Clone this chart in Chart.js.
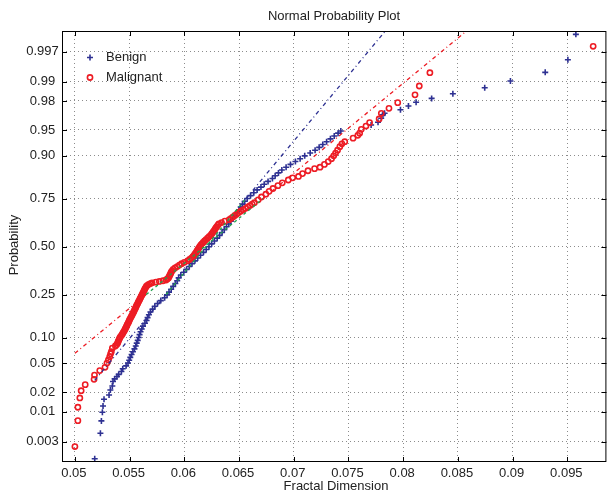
<!DOCTYPE html>
<html>
<head>
<meta charset="utf-8">
<title>Normal Probability Plot</title>
<script src="https://cdn.jsdelivr.net/npm/chart.js@4.4.1/dist/chart.umd.min.js"></script>
<style>
  html, body { margin: 0; padding: 0; background: #fff; overflow: hidden; }
  #wrap { width: 609px; height: 490px; overflow: hidden; }
</style>
</head>
<body>
<div id="wrap"><canvas id="chart" width="612" height="490"></canvas></div>
<script>
// Tick labels
const probTicks = [0.003, 0.01, 0.02, 0.05, 0.10, 0.25, 0.50, 0.75, 0.90, 0.95, 0.98, 0.99, 0.997];
const probLabels = ['0.003', '0.01', '0.02', '0.05', '0.10', '0.25', '0.50', '0.75', '0.90', '0.95', '0.98', '0.99', '0.997'];
const xTicks = [0.05, 0.055, 0.06, 0.065, 0.07, 0.075, 0.08, 0.085, 0.09, 0.095];
const xLabels = ['0.05', '0.055', '0.06', '0.065', '0.07', '0.075', '0.08', '0.085', '0.09', '0.095'];

// Points: [fractal dimension, normal quantile of the probability]
const benign = [
  [0.05181, -2.99], [0.05233, -2.63], [0.05242, -2.456], [0.05251, -2.334], [0.05257, -2.245],
  [0.05266, -2.15], [0.05312, -2.09], [0.05324, -2.02], [0.05342, -1.963], [0.05348, -1.90],
  [0.05363, -1.864], [0.05384, -1.83], [0.05400, -1.80], [0.05425, -1.76], [0.05437, -1.72],
  [0.05468, -1.68], [0.05485, -1.64], [0.05496, -1.60], [0.05506, -1.56], [0.05518, -1.52],
  [0.05530, -1.48], [0.05544, -1.44], [0.05556, -1.40], [0.05565, -1.36], [0.05574, -1.32],
  [0.05583, -1.28], [0.05591, -1.24], [0.05600, -1.20], [0.05611, -1.16], [0.05622, -1.12],
  [0.05640, -1.08], [0.05655, -1.04], [0.05664, -1.00], [0.05676, -0.96], [0.05690, -0.92],
  [0.05710, -0.88], [0.05730, -0.84], [0.05755, -0.80], [0.05785, -0.76], [0.05820, -0.72],
  [0.05842, -0.68], [0.05860, -0.64], [0.05880, -0.60], [0.05898, -0.56], [0.05918, -0.52],
  [0.05935, -0.48], [0.05948, -0.44], [0.05968, -0.40], [0.05995, -0.36], [0.06020, -0.32],
  [0.06045, -0.28], [0.06070, -0.24], [0.06097, -0.20], [0.06122, -0.16], [0.06148, -0.12],
  [0.06175, -0.08], [0.06200, -0.04], [0.06225, 0.00], [0.06250, 0.04], [0.06275, 0.08],
  [0.06300, 0.12], [0.06322, 0.16], [0.06345, 0.20], [0.06365, 0.24], [0.06385, 0.28],
  [0.06405, 0.32], [0.06425, 0.36], [0.06445, 0.40], [0.06462, 0.44], [0.06480, 0.48],
  [0.06500, 0.52], [0.06515, 0.56], [0.06532, 0.60], [0.06552, 0.64], [0.06575, 0.68],
  [0.06605, 0.72], [0.06635, 0.76], [0.06665, 0.80], [0.06700, 0.84], [0.06730, 0.88],
  [0.06765, 0.92], [0.06805, 0.96], [0.06830, 1.00], [0.06860, 1.04], [0.06891, 1.08],
  [0.06930, 1.12], [0.06970, 1.16], [0.07015, 1.20], [0.07058, 1.24], [0.07100, 1.28],
  [0.07150, 1.32], [0.07195, 1.36], [0.07232, 1.40], [0.07265, 1.44], [0.07300, 1.48],
  [0.07335, 1.52], [0.07370, 1.56], [0.07405, 1.60], [0.07430, 1.63], [0.07707, 1.715],
  [0.07770, 1.753], [0.07799, 1.81], [0.07815, 1.86], [0.07830, 1.88], [0.07975, 1.93],
  [0.08048, 1.983], [0.08118, 2.035], [0.08260, 2.09], [0.08454, 2.156], [0.08745, 2.24],
  [0.08980, 2.335], [0.09298, 2.457], [0.09505, 2.635], [0.09578, 2.993]
];

const malignant = [
  [0.05000, -2.817], [0.05027, -2.452], [0.05027, -2.263], [0.05045, -2.132], [0.05057, -2.03],
  [0.05094, -1.945], [0.05175, -1.87], [0.05179, -1.81], [0.05227, -1.747], [0.05275, -1.70],
  [0.05293, -1.64], [0.05306, -1.597], [0.05318, -1.55], [0.05326, -1.51], [0.05333, -1.48],
  [0.05342, -1.43], [0.05370, -1.40], [0.05382, -1.38], [0.05390, -1.36], [0.05395, -1.34],
  [0.05400, -1.32], [0.05406, -1.30], [0.05412, -1.28], [0.05421, -1.26], [0.05430, -1.24],
  [0.05438, -1.22], [0.05445, -1.20], [0.05453, -1.18], [0.05460, -1.16], [0.05466, -1.14],
  [0.05472, -1.12], [0.05478, -1.10], [0.05485, -1.08], [0.05491, -1.06], [0.05497, -1.04],
  [0.05503, -1.02], [0.05510, -1.00], [0.05517, -0.98], [0.05524, -0.96], [0.05530, -0.94],
  [0.05537, -0.92], [0.05543, -0.90], [0.05549, -0.88], [0.05555, -0.86], [0.05561, -0.84],
  [0.05567, -0.82], [0.05574, -0.80], [0.05580, -0.78], [0.05587, -0.76], [0.05593, -0.74],
  [0.05600, -0.72], [0.05606, -0.70], [0.05613, -0.68], [0.05619, -0.66], [0.05626, -0.64],
  [0.05632, -0.62], [0.05638, -0.60], [0.05645, -0.58], [0.05652, -0.56], [0.05662, -0.545],
  [0.05675, -0.53], [0.05690, -0.52], [0.05705, -0.51], [0.05740, -0.50], [0.05772, -0.49],
  [0.05805, -0.48], [0.05833, -0.47], [0.05845, -0.455], [0.05855, -0.44], [0.05862, -0.42],
  [0.05868, -0.40], [0.05874, -0.38], [0.05880, -0.36], [0.05888, -0.34], [0.05898, -0.32],
  [0.05915, -0.30], [0.05935, -0.28], [0.05955, -0.26], [0.05975, -0.24], [0.06000, -0.22],
  [0.06030, -0.20], [0.06048, -0.18], [0.06065, -0.16], [0.06078, -0.14], [0.06090, -0.12],
  [0.06099, -0.10], [0.06108, -0.08], [0.06116, -0.06], [0.06124, -0.04], [0.06132, -0.02],
  [0.06140, 0.00], [0.06150, 0.02], [0.06160, 0.04], [0.06172, 0.06], [0.06185, 0.08],
  [0.06198, 0.10], [0.06212, 0.12], [0.06226, 0.14], [0.06240, 0.16], [0.06250, 0.18],
  [0.06260, 0.20], [0.06269, 0.22], [0.06278, 0.24], [0.06286, 0.26], [0.06295, 0.28],
  [0.06305, 0.30], [0.06315, 0.32], [0.06340, 0.34], [0.06370, 0.36], [0.06410, 0.38],
  [0.06428, 0.40], [0.06445, 0.42], [0.06462, 0.44], [0.06480, 0.46], [0.06497, 0.48],
  [0.06515, 0.50], [0.06537, 0.52], [0.06560, 0.54], [0.06580, 0.56], [0.06600, 0.58],
  [0.06620, 0.60], [0.06640, 0.62], [0.06675, 0.66], [0.06705, 0.70], [0.06745, 0.74],
  [0.06775, 0.78], [0.06810, 0.82], [0.06855, 0.86], [0.06895, 0.90], [0.06950, 0.94],
  [0.06990, 0.97], [0.07043, 0.99], [0.07080, 1.03], [0.07130, 1.07], [0.07190, 1.10],
  [0.07240, 1.12], [0.07280, 1.16], [0.07315, 1.20], [0.07345, 1.24], [0.07365, 1.28],
  [0.07382, 1.32], [0.07400, 1.36], [0.07421, 1.41], [0.07440, 1.45], [0.07466, 1.48],
  [0.07542, 1.53], [0.07585, 1.57], [0.07602, 1.60], [0.07617, 1.654], [0.07660, 1.70],
  [0.07693, 1.748], [0.07780, 1.80], [0.07800, 1.88], [0.07870, 1.95], [0.07950, 2.03],
  [0.08108, 2.14], [0.08147, 2.265], [0.08244, 2.452], [0.09736, 2.824]
];

// Reference lines: dash-dot outside the quartiles, green dashed between them
const benignFitLow = [[0.05181, -1.885], [0.05833, -0.6745]];
const benignFitHigh = [[0.06561, 0.6745], [0.09578, 6.27]];
const benignFitMid = [[0.05833, -0.6745], [0.06561, 0.6745]];
const malignantFitLow = [[0.05000, -1.502], [0.05652, -0.6745]];
const malignantFitHigh = [[0.06716, 0.6745], [0.09736, 4.51]];
const malignantFitMid = [[0.05652, -0.6745], [0.06716, 0.6745]];

const BLUE = '#2e3192';
const RED = '#ed1c24';
const GREEN = '#22a04c';
const FONT = '13px "Liberation Sans", Arial, Helvetica, sans-serif';

// inverse normal CDF (Acklam), used to place the probability ticks
function norminv(p) {
  const a = [-3.969683028665376e+01, 2.209460984245205e+02, -2.759285104469687e+02, 1.383577518672690e+02, -3.066479806614716e+01, 2.506628277459239e+00];
  const b = [-5.447609879822406e+01, 1.615858368580409e+02, -1.556989798598866e+02, 6.680131188771972e+01, -1.328068155288572e+01];
  const c = [-7.784894002430293e-03, -3.223964580411365e-01, -2.400758277161838e+00, -2.549732539343734e+00, 4.374664141464968e+00, 2.938163982698783e+00];
  const d = [7.784695709041462e-03, 3.224671290700398e-01, 2.445134137142996e+00, 3.754408661907416e+00];
  const pl = 0.02425;
  let q, r;
  if (p < pl) {
    q = Math.sqrt(-2 * Math.log(p));
    return (((((c[0]*q+c[1])*q+c[2])*q+c[3])*q+c[4])*q+c[5]) / ((((d[0]*q+d[1])*q+d[2])*q+d[3])*q+1);
  }
  if (p > 1 - pl) {
    q = Math.sqrt(-2 * Math.log(1 - p));
    return -(((((c[0]*q+c[1])*q+c[2])*q+c[3])*q+c[4])*q+c[5]) / ((((d[0]*q+d[1])*q+d[2])*q+d[3])*q+1);
  }
  q = p - 0.5;
  r = q * q;
  return (((((a[0]*r+a[1])*r+a[2])*r+a[3])*r+a[4])*r+a[5])*q / (((((b[0]*r+b[1])*r+b[2])*r+b[3])*r+b[4])*r+1);
}

const toXY = pts => pts.map(p => ({ x: p[0], y: p[1] }));

function fitLine(pts, color, dash) {
  return {
    type: 'line', data: toXY(pts), borderColor: color, borderWidth: 1.3,
    borderDash: dash, pointRadius: 0, fill: false, clip: 0
  };
}

// Draws frame, inward ticks, labels, title and legend
const decorations = {
  id: 'decorations',
  afterDraw(chart) {
    const { ctx, chartArea: a, scales: { x, y } } = chart;
    ctx.save();
    ctx.strokeStyle = '#000';
    ctx.lineWidth = 1;
    ctx.strokeRect(a.left + 0.5, a.top + 0.5, a.right - a.left - 1, a.bottom - a.top - 1);

    ctx.beginPath();
    xTicks.forEach(v => {
      const px = Math.round(x.getPixelForValue(v)) + 0.5;
      ctx.moveTo(px, a.bottom); ctx.lineTo(px, a.bottom - 5);
      ctx.moveTo(px, a.top); ctx.lineTo(px, a.top + 5);
    });
    probTicks.forEach(p => {
      const py = Math.round(y.getPixelForValue(norminv(p))) + 0.5;
      ctx.moveTo(a.left, py); ctx.lineTo(a.left + 5, py);
      ctx.moveTo(a.right, py); ctx.lineTo(a.right - 5, py);
    });
    ctx.stroke();

    ctx.fillStyle = '#222';
    ctx.font = FONT;
    ctx.textAlign = 'center';
    ctx.textBaseline = 'middle';
    xTicks.forEach((v, i) => {
      ctx.fillText(xLabels[i], x.getPixelForValue(v) - 1, 473);
    });
    probTicks.forEach((p, i) => {
      ctx.fillText(probLabels[i], 42.5, y.getPixelForValue(norminv(p)));
    });

    ctx.fillText('Normal Probability Plot', 334, 16.5);
    ctx.textBaseline = 'top';
    ctx.fillText('Fractal Dimension', 336, 480);

    ctx.save();
    ctx.translate(14, 245);
    ctx.rotate(-Math.PI / 2);
    ctx.textBaseline = 'middle';
    ctx.fillText('Probability', 0, 0);
    ctx.restore();

    // legend
    ctx.textAlign = 'left';
    ctx.textBaseline = 'middle';
    ctx.strokeStyle = BLUE;
    ctx.lineWidth = 1.6;
    ctx.beginPath();
    ctx.moveTo(87, 57.5); ctx.lineTo(93, 57.5);
    ctx.moveTo(90, 54.5); ctx.lineTo(90, 60.5);
    ctx.stroke();
    ctx.strokeStyle = RED;
    ctx.beginPath();
    ctx.arc(90, 77.5, 2.6, 0, Math.PI * 2);
    ctx.stroke();
    ctx.fillStyle = '#222';
    ctx.fillText('Benign', 106, 57.5);
    ctx.fillText('Malignant', 106, 77.5);
    ctx.restore();
  }
};

const ctx = document.getElementById('chart').getContext('2d');
new Chart(ctx, {
  type: 'scatter',
  data: {
    datasets: [
      fitLine(malignantFitMid, GREEN, [3, 3]),
      fitLine(benignFitMid, GREEN, [3, 3]),
      fitLine(malignantFitLow, RED, [4, 3, 1, 3]),
      fitLine(malignantFitHigh, RED, [4, 3, 1, 3]),
      fitLine(benignFitLow, BLUE, [4, 3, 1, 3]),
      fitLine(benignFitHigh, BLUE, [4, 3, 1, 3]),
      {
        label: 'Malignant', data: toXY(malignant),
        pointStyle: 'circle', pointRadius: 2.6, borderWidth: 1.6,
        borderColor: RED, backgroundColor: 'rgba(0,0,0,0)'
      },
      {
        label: 'Benign', data: toXY(benign),
        pointStyle: 'cross', pointRadius: 3, borderWidth: 1.6,
        borderColor: BLUE, backgroundColor: BLUE
      }
    ]
  },
  options: {
    responsive: false,
    animation: false,
    devicePixelRatio: 1,
    layout: { padding: { top: 31, right: 2, left: 0, bottom: 0 } },
    plugins: {
      legend: { display: false },
      tooltip: { enabled: false },
      title: { display: false }
    },
    scales: {
      x: {
        type: 'linear',
        min: 0.04882,
        max: 0.09857,
        afterBuildTicks(scale) { scale.ticks = xTicks.map(v => ({ value: v })); },
        afterFit(scale) { scale.height = 28; },
        ticks: { display: false },
        grid: { color: 'rgba(120,120,120,0.85)', lineWidth: 1, drawTicks: false },
        border: { display: false, dash: [1, 3] }
      },
      y: {
        type: 'linear',
        min: -3.035,
        max: 3.04,
        afterBuildTicks(scale) { scale.ticks = probTicks.map(p => ({ value: norminv(p) })); },
        afterFit(scale) { scale.width = 62; },
        ticks: { display: false },
        grid: { color: 'rgba(120,120,120,0.85)', lineWidth: 1, drawTicks: false },
        border: { display: false, dash: [1, 3] }
      }
    }
  },
  plugins: [decorations]
});
</script>
</body>
</html>
